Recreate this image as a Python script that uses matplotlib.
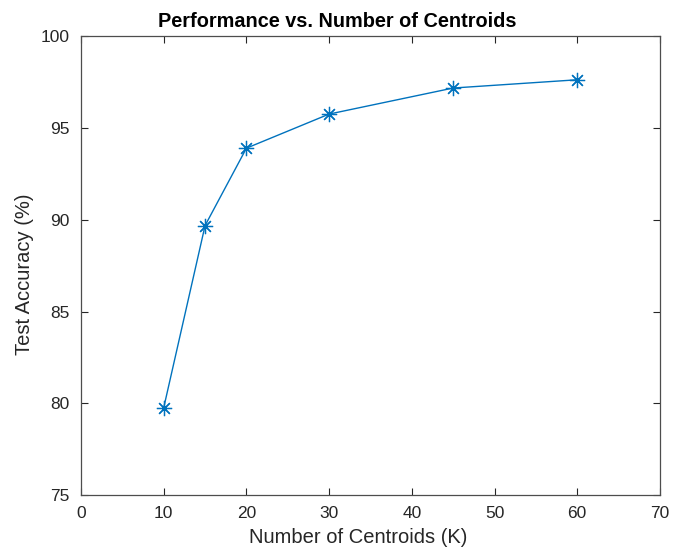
import matplotlib
matplotlib.use("Agg")
import matplotlib.pyplot as plt

centroids = [10, 15, 20, 30, 45, 60]
accuracy = [79.76, 89.69, 93.91, 95.77, 97.19, 97.64]

plt.rcParams['font.family'] = ['Liberation Sans', 'DejaVu Sans']

fig = plt.figure(figsize=(6.81, 5.53), dpi=100)
ax = fig.add_axes([0.119, 0.105, 0.850, 0.829])

# MATLAB-style '*' marker: 8 spokes
ax.plot(centroids, accuracy, color='#0072BD', linewidth=1, marker=(8, 2, 0),
        markersize=11, markeredgewidth=0.9)

ax.set_xlim(0, 70)
ax.set_ylim(75, 100)
ax.set_xticks(range(0, 71, 10))
ax.set_yticks(range(75, 101, 5))

axis_grey = '#262626'
for side in ax.spines.values():
    side.set_color('#4d4d4d')
    side.set_linewidth(0.9)
ax.tick_params(direction='in', length=5, width=0.8, colors=axis_grey,
               labelsize=12.5, top=True, right=True, pad=8)

ax.set_xlabel('Number of Centroids (K)', fontsize=14.5, color=axis_grey, labelpad=5)
ax.set_ylabel('Test Accuracy (%)', fontsize=14.5, color=axis_grey, labelpad=5)
ax.xaxis.label.set_x(0.479)
ax.yaxis.label.set_y(0.481)
ax.set_title('Performance vs. Number of Centroids', fontsize=14.3,
             fontweight='bold', color='black', pad=7, x=0.442)

fig.savefig('out.png', dpi=100)
